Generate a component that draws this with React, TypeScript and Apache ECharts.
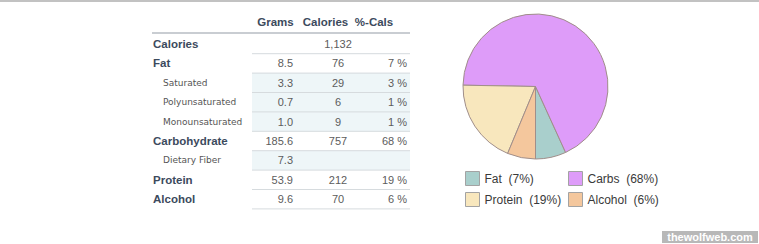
import React, { useEffect, useRef } from "react";
import * as echarts from "echarts";

const headers = ["Grams", "Calories", "%-Cals"];
const rowLabels = ["Calories", "Fat", "Saturated", "Polyunsaturated", "Monounsaturated", "Carbohydrate", "Dietary Fiber", "Protein", "Alcohol"];
const rowIsSub = [false, false, true, true, true, false, true, false, false];
const gramsCol = ["", "8.5", "3.3", "0.7", "1.0", "185.6", "7.3", "53.9", "9.6"];
const caloriesCol = ["1,132", "76", "29", "6", "9", "757", "", "212", "70"];
const pctCol = ["", "7 %", "3 %", "1 %", "1 %", "68 %", "", "19 %", "6 %"];

const pieNames = ["Fat", "Carbs", "Protein", "Alcohol"];
const pieValues = [76, 757, 212, 70];
const piePctLabels = ["7%", "68%", "19%", "6%"];
const pieColors = ["#a9cfcc", "#de9cf9", "#f8e7bd", "#f4c79d"];

const watermark = "thewolfweb.com";

export default function App() {
  const ref = useRef<HTMLDivElement>(null);
  useEffect(() => {
    if (!ref.current) return;
    const chart = echarts.init(ref.current, null, { renderer: "svg" });
    const labelColor = "#3c4a5d";
    const numColor = "#5c5c5c";
    const firstRowY = 44;
    const step = 19.4;
    const half = 9.7;
    const dataLeft = 252;
    const dataRight = 410;
    const graphics: any[] = [];
    // top border line
    graphics.push({ type: "rect", shape: { x: 0, y: 0, width: 759, height: 2 }, style: { fill: "#c2c2c2" }, z: 1 });
    // row bands and separators
    rowLabels.forEach((lab, i) => {
      const cy = firstRowY + i * step;
      if (rowIsSub[i]) {
        graphics.push({ type: "rect", shape: { x: dataLeft, y: cy - half, width: dataRight - dataLeft, height: half * 2 }, style: { fill: "#eef6f8" }, z: 1 });
      }
      graphics.push({ type: "line", shape: { x1: dataLeft, y1: cy + half, x2: dataRight, y2: cy + half }, style: { stroke: "#d6dbde", lineWidth: 1 }, z: 2 });
      graphics.push({
        type: "text", x: rowIsSub[i] ? 163 : 153, y: cy, z: 3,
        style: {
          text: lab, fill: rowIsSub[i] ? "#555" : labelColor,
          font: rowIsSub[i] ? "9px 'DejaVu Sans'" : "bold 11.5px 'Liberation Sans', Arial",
          textAlign: "left", textVerticalAlign: "middle",
        },
      });
      const cells = [
        { t: gramsCol[i], x: 293, a: "right" },
        { t: caloriesCol[i], x: 338, a: "center" },
        { t: pctCol[i], x: 407, a: "right" },
      ];
      cells.forEach((c) => {
        if (!c.t) return;
        graphics.push({
          type: "text", x: c.x, y: cy, z: 3,
          style: { text: c.t, fill: numColor, font: "11px 'Liberation Sans', Arial", textAlign: c.a, textVerticalAlign: "middle" },
        });
      });
    });
    // header
    const headerX = [275.5, 325.5, 374];
    headers.forEach((h, i) => {
      graphics.push({
        type: "text", x: headerX[i], y: 22, z: 3,
        style: { text: h, fill: labelColor, font: "bold 11.5px 'Liberation Sans', Arial", textAlign: "center", textVerticalAlign: "middle" },
      });
    });
    graphics.push({ type: "rect", shape: { x: 152, y: 32, width: 258, height: 2 }, style: { fill: "#c9cdd2" }, z: 2 });
    // watermark
    graphics.push({ type: "rect", shape: { x: 662, y: 231, width: 96, height: 12 }, style: { fill: "#b8b8b8" }, z: 2 });
    graphics.push({
      type: "text", x: 710, y: 237, z: 3,
      style: { text: watermark, fill: "#ffffff", font: "bold 11px 'Liberation Sans', Arial", textAlign: "center", textVerticalAlign: "middle" },
    });

    const pctMap: Record<string, string> = {};
    pieNames.forEach((n, i) => (pctMap[n] = piePctLabels[i]));
    const legendBase = {
      orient: "vertical",
      top: 171,
      padding: 0,
      itemWidth: 14,
      itemHeight: 14,
      itemGap: 6,
      icon: "rect",
      selectedMode: false,
      itemStyle: { borderColor: "#a3a3a3", borderWidth: 1 },
      textStyle: { color: "#3a3a3a", fontSize: 12, fontFamily: "'Liberation Sans', Arial" },
      formatter: (name: string) => `${name}\u00a0 (${pctMap[name]})`,
    };

    chart.setOption({
      animation: false,
      graphic: graphics,
      legend: [
        { ...legendBase, left: 465, data: [pieNames[0], pieNames[2]] },
        { ...legendBase, left: 568, data: [pieNames[1], pieNames[3]] },
      ],
      series: [
        {
          type: "pie",
          center: [535.5, 86.5],
          radius: 72.5,
          startAngle: 270,
          clockwise: false,
          silent: true,
          label: { show: false },
          labelLine: { show: false },
          itemStyle: { borderColor: "#a08e8a", borderWidth: 1 },
          data: pieNames.map((n, i) => ({ name: n, value: pieValues[i], itemStyle: { color: pieColors[i] } })),
        },
      ],
    });
    return () => chart.dispose();
  }, []);
  return <div ref={ref} style={{ position: "absolute", left: 0, top: 0, width: 759, height: 244 }} />;
}
